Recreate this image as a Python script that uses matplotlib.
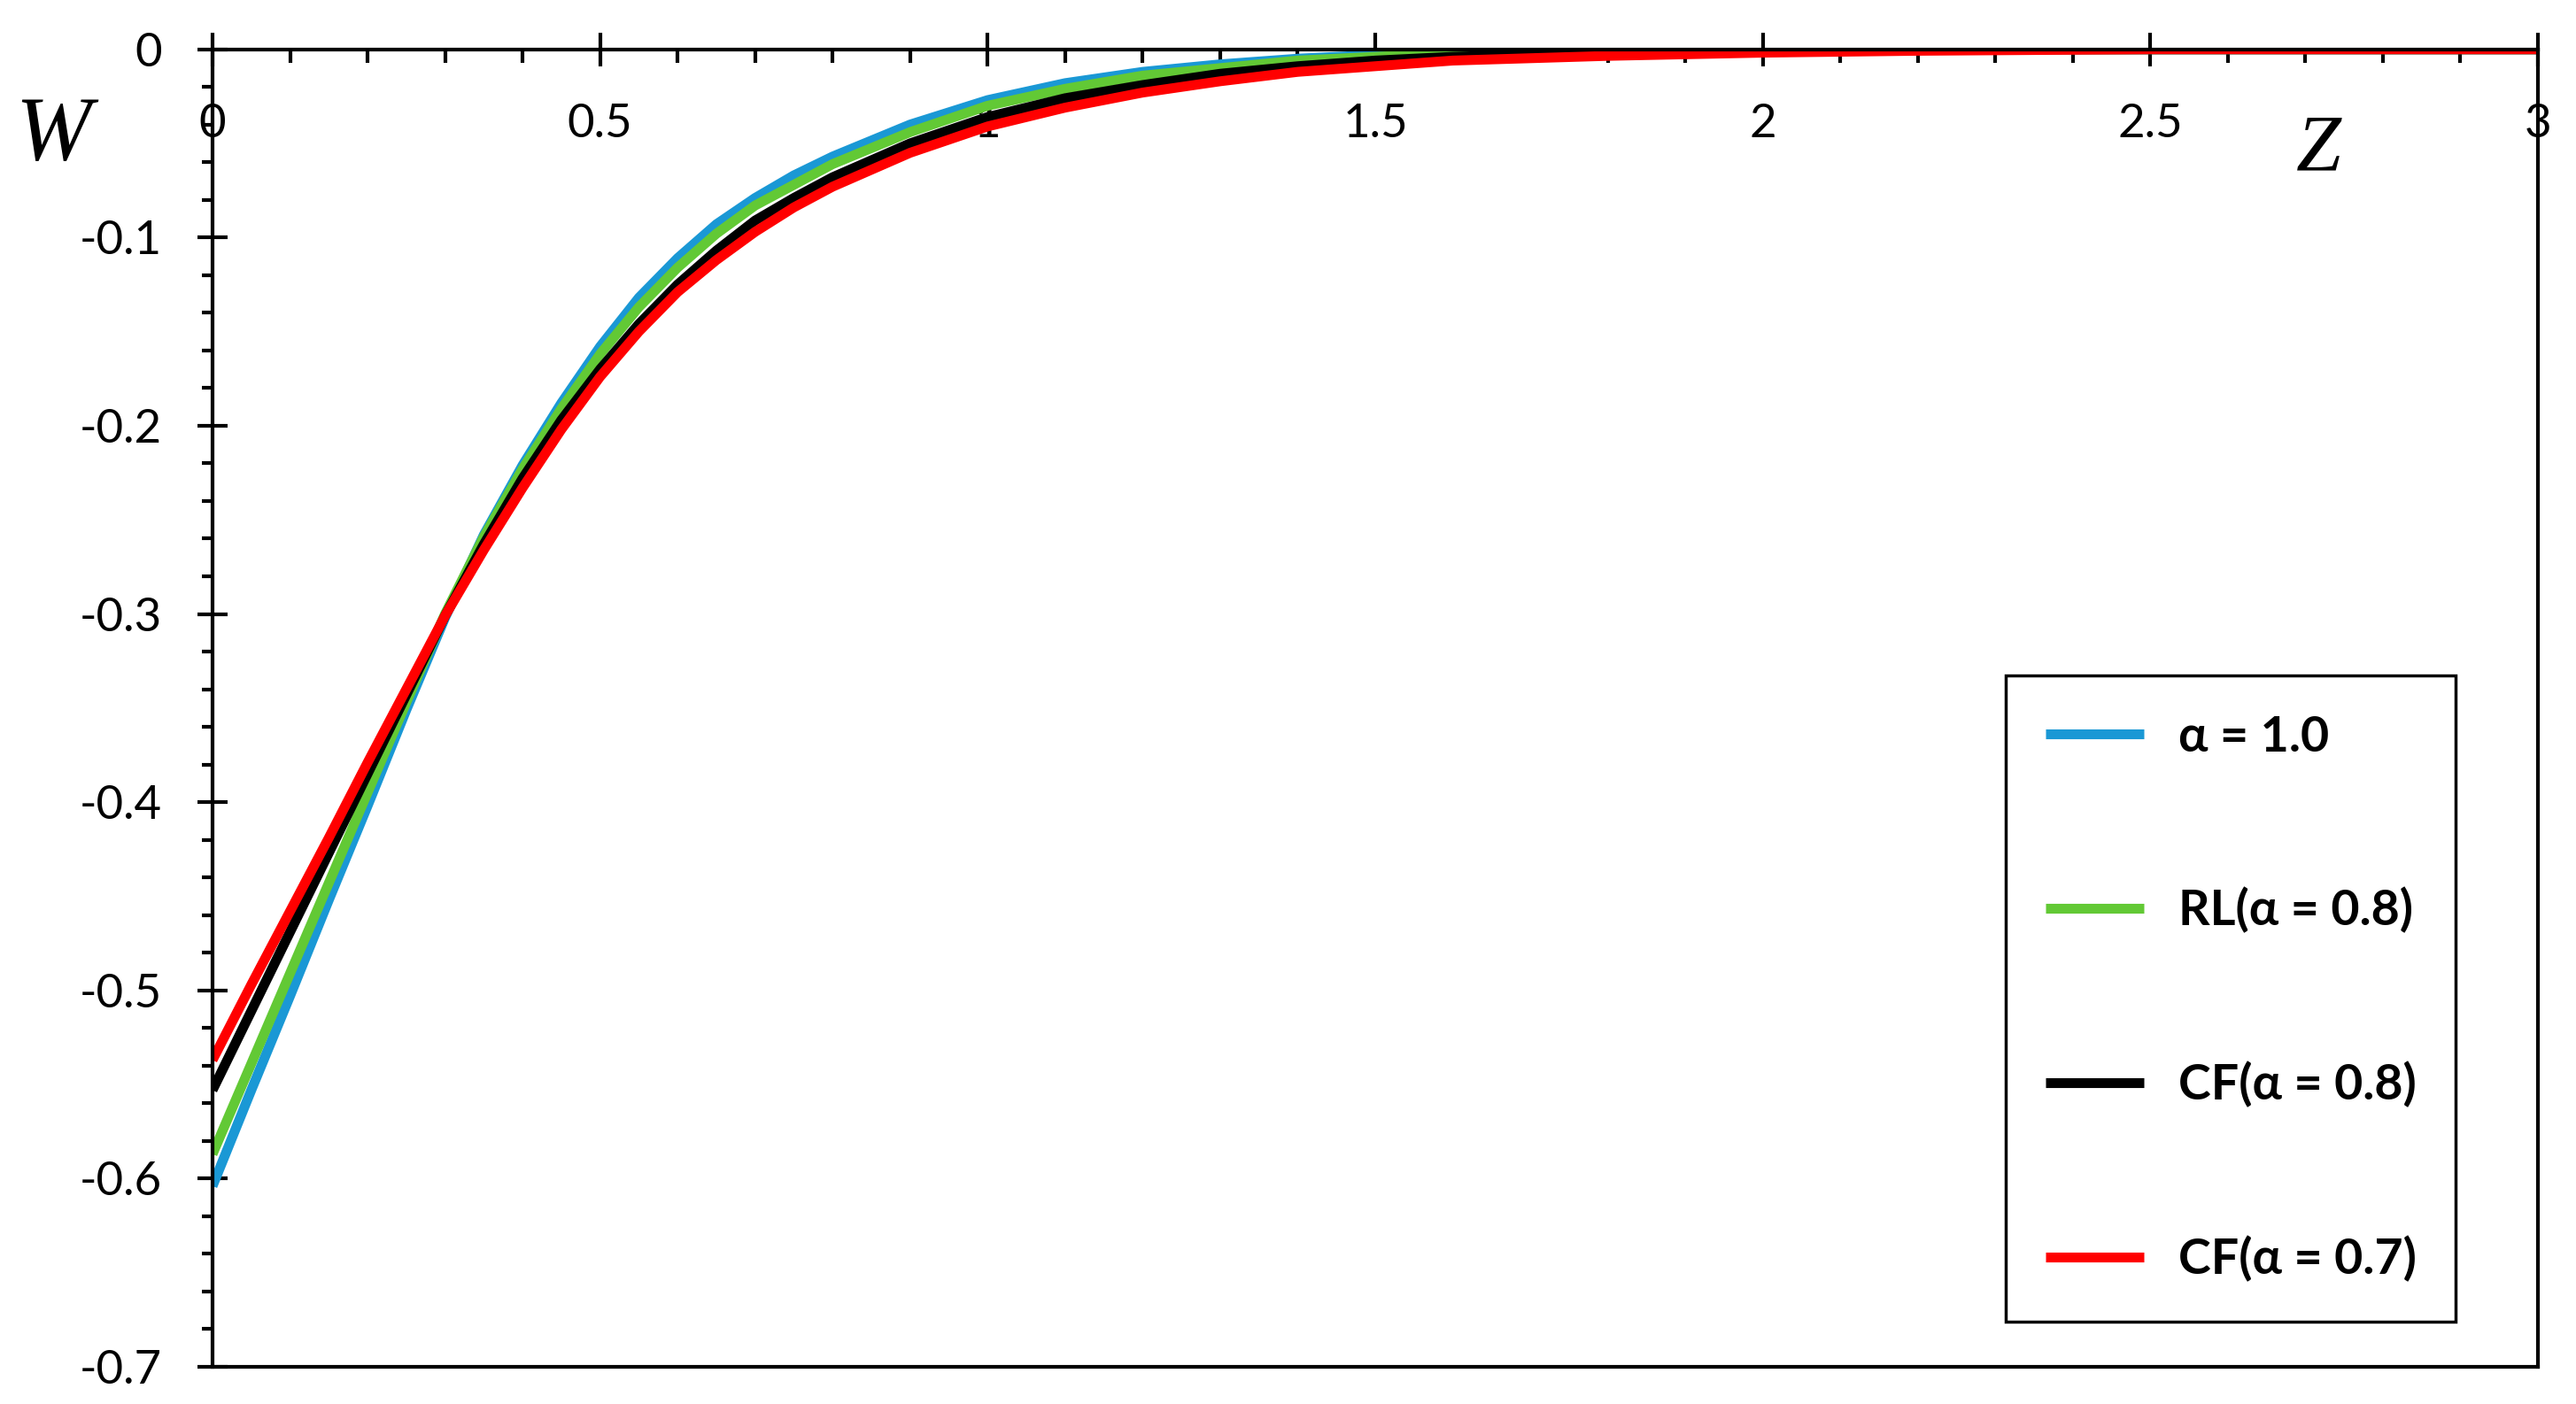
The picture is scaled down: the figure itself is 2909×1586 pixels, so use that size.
import matplotlib.pyplot as plt
from matplotlib.ticker import MultipleLocator

# data
z = [0, 0.05, 0.1, 0.15, 0.2, 0.25, 0.3, 0.35, 0.4, 0.45, 0.5, 0.55, 0.6,
     0.65, 0.7, 0.75, 0.8, 0.9, 1.0, 1.1, 1.2, 1.3, 1.4, 1.5, 1.6, 1.8,
     2.0, 2.2, 2.5, 3.0]
w_a10 = [-0.604, -0.553, -0.503, -0.452, -0.402, -0.351, -0.302, -0.258,
         -0.221, -0.188, -0.158, -0.132, -0.111, -0.093, -0.079, -0.067,
         -0.057, -0.040, -0.027, -0.018, -0.012, -0.008, -0.005, -0.003,
         -0.002, -0.0008, 0, 0, 0, 0]
w_rl08 = [-0.587, -0.539, -0.491, -0.443, -0.395, -0.347, -0.300, -0.259,
          -0.223, -0.191, -0.162, -0.137, -0.116, -0.098, -0.083, -0.072,
          -0.061, -0.044, -0.030, -0.021, -0.014, -0.010, -0.006, -0.004,
          -0.002, -0.001, 0, 0, 0, 0]
w_cf08 = [-0.553, -0.511, -0.469, -0.427, -0.385, -0.343, -0.301, -0.263,
          -0.228, -0.197, -0.170, -0.146, -0.125, -0.107, -0.091, -0.079,
          -0.068, -0.050, -0.036, -0.026, -0.019, -0.013, -0.009, -0.006,
          -0.004, -0.0015, -0.0005, 0, 0, 0]
w_cf07 = [-0.537, -0.497, -0.458, -0.419, -0.379, -0.340, -0.301, -0.266,
          -0.233, -0.202, -0.174, -0.150, -0.129, -0.112, -0.097, -0.084,
          -0.073, -0.055, -0.041, -0.031, -0.023, -0.017, -0.012, -0.009,
          -0.006, -0.0035, -0.0018, -0.0008, 0, 0]

labels = ["α = 1.0", "RL(α = 0.8)", "CF(α = 0.8)", "CF(α = 0.7)"]
colors = ["#1a98d5", "#62c935", "black", "#ff0000"]

plt.rcParams['font.family'] = ['Lato', 'DejaVu Sans']

fig = plt.figure(figsize=(29.09, 15.86), dpi=100)
ax = fig.add_axes([0.0825, 0.0265, 0.9027, 0.9384])

for w, lab, c in zip([w_a10, w_rl08, w_cf08, w_cf07], labels, colors):
    ax.plot(z, w, color=c, lw=8, label=lab, solid_capstyle='butt',
            solid_joinstyle='round')

ax.set_xlim(0, 3)
ax.set_ylim(-0.7, 0)

for s in ax.spines.values():
    s.set_linewidth(3)
    s.set_color("black")

ax.xaxis.tick_top()
ax.xaxis.set_minor_locator(MultipleLocator(0.1))
ax.yaxis.set_minor_locator(MultipleLocator(0.02))
ax.set_xticks([0, 0.5, 1, 1.5, 2, 2.5, 3])
ax.set_xticklabels(["0", "0.5", "1", "1.5", "2", "2.5", "3"])
ax.set_yticks([0, -0.1, -0.2, -0.3, -0.4, -0.5, -0.6, -0.7])
ax.set_yticklabels(["0", "-0.1", "-0.2", "-0.3", "-0.4", "-0.5", "-0.6", "-0.7"])

ax.tick_params(axis='x', which='major', direction='inout', length=28, width=3,
               labelsize=38, pad=-92)
ax.tick_params(axis='x', which='minor', direction='in', length=11, width=3)
ax.tick_params(axis='y', which='major', direction='inout', length=24, width=3,
               labelsize=38, pad=29)
ax.tick_params(axis='y', which='minor', direction='out', length=9, width=3)

fig.text(0.0205, 0.902, "W", fontsize=74, style='italic',
         family='Liberation Serif', ha='center', va='center')
fig.text(0.900, 0.893, "Z", fontsize=66, style='italic',
         family='Liberation Serif', ha='center', va='center')

leg = ax.legend(loc='lower right', bbox_to_anchor=(0.9646, 0.0343),
                borderaxespad=0, frameon=True, fancybox=False,
                edgecolor='black', framealpha=1, handlelength=2.0,
                handletextpad=0.7, borderpad=0.8, labelspacing=2.6,
                prop={'weight': 'bold', 'size': 40})
leg.get_frame().set_linewidth(2.5)

plt.savefig("out.png", dpi=100)
